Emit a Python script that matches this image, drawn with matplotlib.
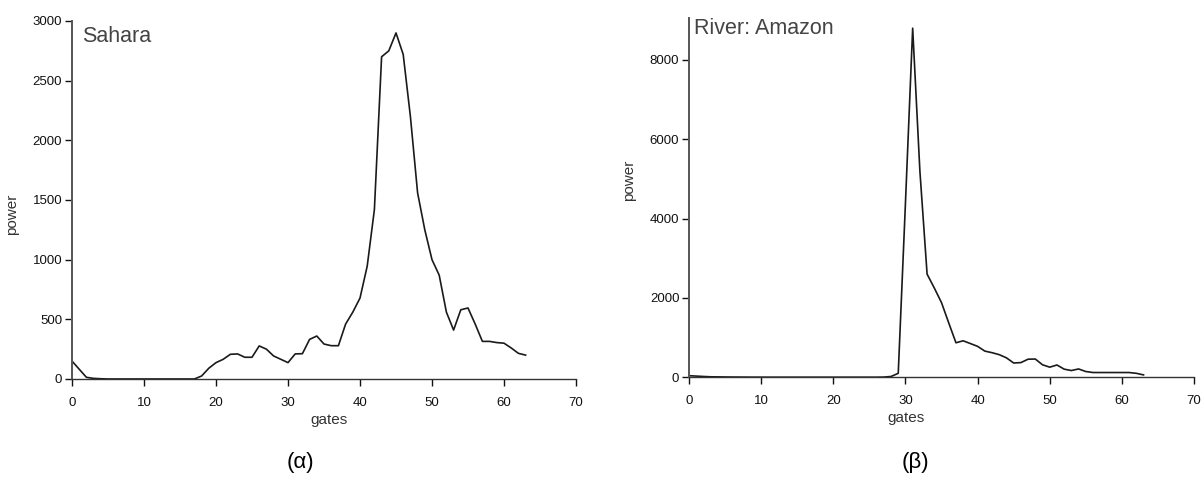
import matplotlib
matplotlib.use("Agg")
import matplotlib.pyplot as plt
import numpy as np

plt.rcParams['font.family'] = ['Liberation Sans', 'DejaVu Sans']

# gates 0..63
gates = np.arange(64)

sahara_power = [150, 82, 14, 5, 2, 0, 0, 0, 0, 0,
                0, 0, 0, 0, 0, 0, 0, 0, 25, 90,
                137, 165, 207, 210, 182, 182, 277, 250, 193, 165,
                137, 210, 212, 332, 360, 293, 279, 279, 460, 560,
                678, 945, 1420, 2700, 2750, 2900, 2720, 2200, 1560, 1250,
                1000, 870, 560, 410, 580, 595, 460, 315, 315, 305,
                300, 260, 215, 200]

amazon_power = [40, 30, 20, 12, 10, 8, 6, 5, 4, 3,
                3, 2, 2, 2, 2, 2, 2, 2, 2, 2,
                2, 2, 2, 2, 2, 2, 2, 5, 20, 100,
                4400, 8800, 5200, 2600, 2250, 1880, 1370, 870, 920, 850,
                780, 660, 620, 570, 490, 360, 370, 456, 460, 315,
                255, 310, 205, 170, 210, 145, 120, 120, 120, 120,
                120, 120, 100, 60]

x_ticks = [0, 10, 20, 30, 40, 50, 60, 70]
sahara_yticks = [0, 500, 1000, 1500, 2000, 2500, 3000]
amazon_yticks = [0, 2000, 4000, 6000, 8000]

fig = plt.figure(figsize=(12.04, 4.86), dpi=100)

ax1 = fig.add_axes([0.0598, 0.2202, 0.4186, 0.7366])
ax2 = fig.add_axes([0.5723, 0.2237, 0.4194, 0.7387])


def style(ax, yticks, ylim, title, xlab_x):
    ax.set_xlim(0, 70)
    ax.set_ylim(0, ylim)
    ax.set_xticks(x_ticks)
    ax.set_yticks(yticks)
    for s in ['top', 'right']:
        ax.spines[s].set_visible(False)
    ax.spines['left'].set_linewidth(1.4)
    ax.spines['left'].set_color('#555555')
    ax.spines['bottom'].set_linewidth(1.0)
    ax.spines['bottom'].set_color('#333333')
    ax.tick_params(axis='both', direction='out', length=5, width=1,
                   labelsize=9.5, colors='#111111')
    ax.tick_params(axis='x', pad=8)
    ax.tick_params(axis='y', pad=2)
    ax.set_xlabel('gates', fontsize=11, color='#333333')
    ax.set_ylabel('power', fontsize=11, color='#333333')
    ax.xaxis.set_label_coords(xlab_x, -0.095)
    ax.text(0.02, 0.985, title, transform=ax.transAxes, fontsize=15.5,
            color='#444444', va='top', ha='left')


ax1.plot(gates, sahara_power, color='#1a1a1a', linewidth=1.2)
style(ax1, sahara_yticks, 3000, 'Sahara', 0.51)
ax1.yaxis.set_label_coords(-0.105, 0.46)

ax2.plot(gates, amazon_power, color='#1a1a1a', linewidth=1.2)
style(ax2, amazon_yticks, 9050, 'River: Amazon', 0.43)
ax2.texts[0].set_position((0.01, 1.0))
ax2.yaxis.set_label_coords(-0.105, 0.55)

fig.text(300 / 1204, 1 - 462 / 486, '(α)', fontsize=16, ha='center', va='center')
fig.text(915 / 1204, 1 - 462 / 486, '(β)', fontsize=16, ha='center', va='center')

fig.savefig('out.png', dpi=100)
